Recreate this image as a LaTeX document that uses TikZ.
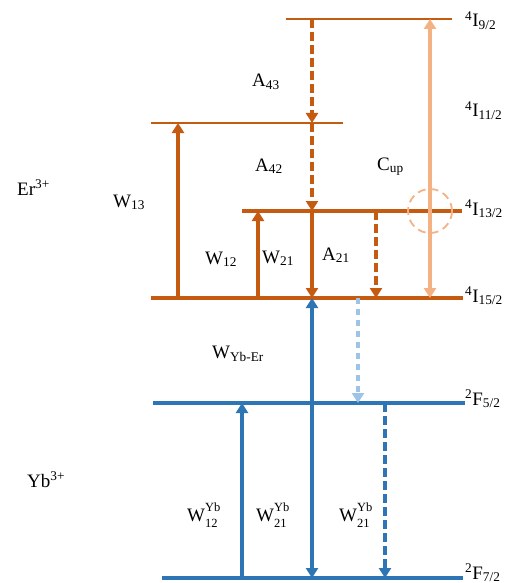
\documentclass[tikz,border=0pt]{standalone}
\usepackage{fontspec}
\setmainfont{Liberation Serif}
\usetikzlibrary{arrows.meta}
\definecolor{erO}{HTML}{C55A11}
\definecolor{erL}{HTML}{F4B183}
\definecolor{ybB}{HTML}{2E75B6}
\definecolor{ybL}{HTML}{9DC3E6}
\newcommand{\lvl}[3]{\textsuperscript{#1}#2\textsubscript{#3}}
\newcommand{\wsup}[2]{W\rlap{\raisebox{0.52em}{\fontsize{12.5}{13}\selectfont #1}}\raisebox{-0.32em}{\fontsize{12.5}{13}\selectfont #2}}
\begin{document}
\begin{tikzpicture}[x=1pt,y=-1pt,
  lbl/.style={anchor=base west, inner sep=0pt, font=\fontsize{19}{22}\selectfont},
  arr/.style={line width=3.3pt, -{Triangle[width=12pt,length=10pt]}},
  darr/.style={line width=3.3pt, {Triangle[width=12pt,length=10pt]}-{Triangle[width=12pt,length=10pt]}},
  dsh/.style={dash pattern=on 9pt off 4pt},
  lvlO/.style={draw=erO, line width=#1},
  lvlB/.style={draw=ybB, line width=#1}
]
\useasboundingbox (0,0) rectangle (504,583);
% level end points
\coordinate (I9L) at (286,19);   \coordinate (I9R) at (452,19);
\coordinate (I11L) at (151,123); \coordinate (I11R) at (343,123);
\coordinate (I13L) at (242,211); \coordinate (I13R) at (462,211);
\coordinate (I15L) at (151,298); \coordinate (I15R) at (463,298);
\coordinate (F5L) at (153,403);  \coordinate (F5R) at (465,403);
\coordinate (F7L) at (162,578);  \coordinate (F7R) at (463,578);
% arrow columns
\coordinate (cW13) at (178,0);
\coordinate (cW12) at (258,0);
\coordinate (cA) at (312,0);
\coordinate (cD) at (376,0);
\coordinate (cC) at (430,0);
\coordinate (cLB) at (358,0);
\coordinate (cY12) at (242,0);
\coordinate (cY21) at (385,0);
% levels
\draw[lvlO=2.8pt] (I9L) -- (I9R);
\draw[lvlO=2.8pt] (I11L) -- (I11R);
\draw[lvlO=3.4pt] (I13L) -- (I13R);
\draw[lvlO=4.5pt] (I15L) -- (I15R);
\draw[lvlB=3.4pt] (F5L) -- (F5R);
\draw[lvlB=4.5pt] (F7L) -- (F7R);
% Er transitions
\draw[arr, erO, dsh] (cA |- I9L) -- (cA |- I11L);
\draw[arr, erO, dsh] (cA |- I11L) -- (cA |- I13L);
\draw[arr, erO] (cA |- I13L) -- (cA |- I15L);
\draw[arr, erO] (cW13 |- I15L) -- (cW13 |- I11L);
\draw[arr, erO] (cW12 |- I15L) -- (cW12 |- I13L);
\draw[arr, erO, dsh] (cD |- I13L) -- (cD |- I15L);
\draw[darr, erL] (cC |- I15L) -- (cC |- I9L);
\coordinate (circC) at (cC |- I13L);
\draw[erL, line width=1.8pt, dash pattern=on 8pt off 5pt] (circC) circle[radius=22];
% Yb transitions
\draw[arr, ybB] (cA |- F5L) -- (cA |- I15L);
\draw[arr, ybB] (cA |- F5L) -- (cA |- F7L);
\draw[arr, ybL, dash pattern=on 6pt off 5pt] (cLB |- I15L) -- (cLB |- F5L);
\draw[arr, ybB] (cY12 |- F7L) -- (cY12 |- F5L);
\draw[arr, ybB, dsh] (cY21 |- F5L) -- (cY21 |- F7L);
% labels
\node[lbl] (t9) at (465,27) {\lvl{4}{I}{9/2}};
\node[lbl] (t11) at (465,117) {\lvl{4}{I}{11/2}};
\node[lbl] (t13) at (465,215) {\lvl{4}{I}{13/2}};
\node[lbl] (t15) at (465,302) {\lvl{4}{I}{15/2}};
\node[lbl] (t5) at (465,405) {\lvl{2}{F}{5/2}};
\node[lbl] (t7) at (465,579) {\lvl{2}{F}{7/2}};
\node[lbl] (er) at (17,195) {Er\textsuperscript{3+}};
\node[lbl] (yb) at (27,487) {Yb\textsuperscript{3+}};
\node[lbl] (a43) at (252,87) {A\textsubscript{43}};
\node[lbl] (a42) at (255,171) {A\textsubscript{42}};
\node[lbl] (cup) at (377,170) {C\textsubscript{up}};
\node[lbl] (w13) at (113,207) {W\textsubscript{13}};
\node[lbl] (w12) at (205,264) {W\textsubscript{12}};
\node[lbl] (w21) at (262,263) {W\textsubscript{21}};
\node[lbl] (a21) at (322,260) {A\textsubscript{21}};
\node[lbl] (wye) at (212,358) {W\textsubscript{Yb-Er}};
\node[lbl] (y12) at (187,521) {\wsup{Yb}{12}};
\node[lbl] (y21a) at (256,521) {\wsup{Yb}{21}};
\node[lbl] (y21b) at (339,521) {\wsup{Yb}{21}};
\end{tikzpicture}
\end{document}
